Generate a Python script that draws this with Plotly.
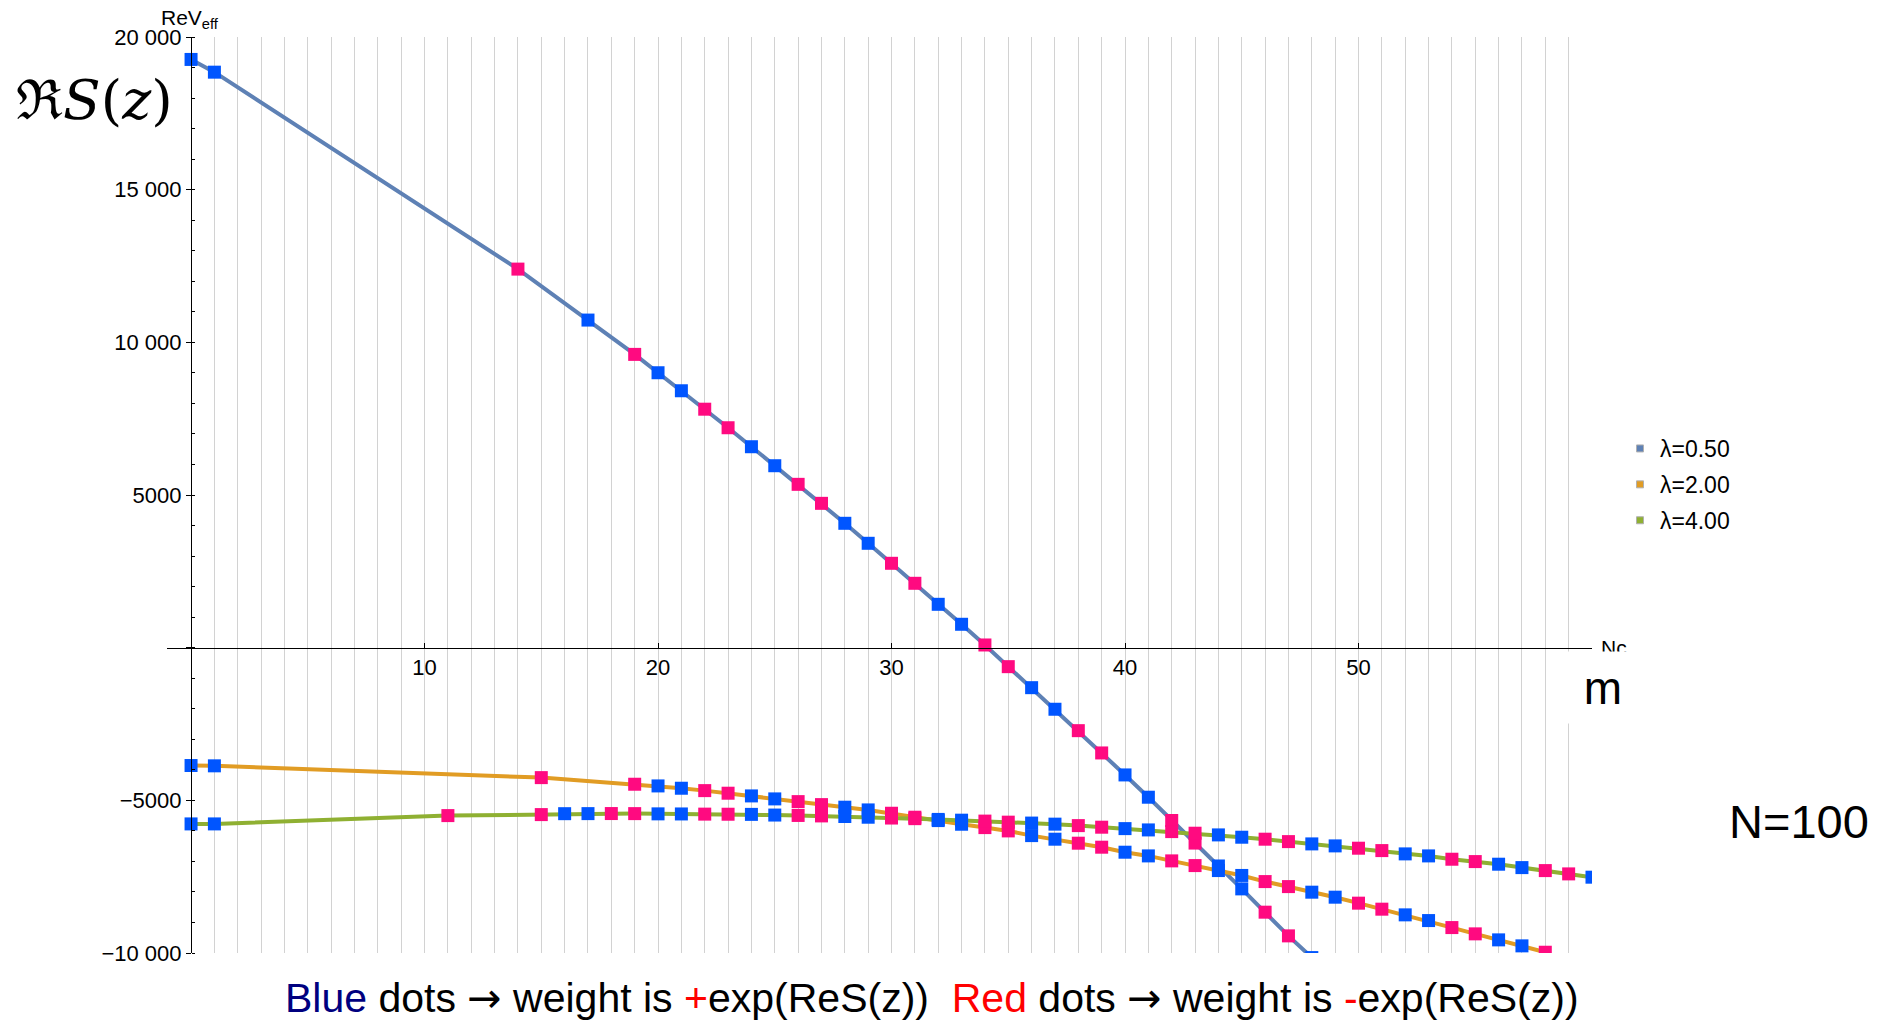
import plotly.graph_objects as go

# ---------------- data ----------------
m_l050 = [0, 1, 14, 17, 19, 20, 21, 22, 23, 24, 25, 26, 27, 28, 29, 30, 31, 32, 33,
          34, 35, 36, 37, 38, 39, 40, 41, 42, 43, 44, 45, 46, 47, 48]
res_l050 = [19265, 18848, 12398, 10729, 9605, 9004, 8414, 7810, 7203, 6581, 5959, 5349,
            4727, 4073, 3418, 2763, 2108, 1420, 766, 88, -622, -1310, -2017, -2718,
            -3448, -4168, -4898, -5660, -6400, -7150, -7900, -8663, -9439, -10150]

m_l200 = [0, 1, 15, 19, 20, 21, 22, 23, 24, 25, 26, 27, 28, 29, 30, 31, 32, 33, 34, 35,
          36, 37, 38, 39, 40, 41, 42, 43, 44, 45, 46, 47, 48, 49, 50, 51, 52, 53, 54,
          55, 56, 57, 58]
res_l200 = [-3860, -3870, -4256, -4473, -4528, -4604, -4682, -4767, -4855, -4953, -5042,
            -5140, -5225, -5314, -5423, -5553, -5663, -5783, -5893, -6001, -6155, -6273,
            -6404, -6535, -6699, -6820, -6983, -7137, -7300, -7460, -7661, -7825, -8008,
            -8172, -8368, -8565, -8751, -8938, -9167, -9373, -9570, -9766, -9975]

m_l400 = [0, 1, 11, 15, 16, 17, 18, 19, 20, 21, 22, 23, 24, 25, 26, 27, 28, 29, 30, 31,
          32, 33, 34, 35, 36, 37, 38, 39, 40, 41, 42, 43, 44, 45, 46, 47, 48, 49, 50,
          51, 52, 53, 54, 55, 56, 57, 58, 59, 60]
res_l400 = [-5772, -5772, -5500, -5467, -5437, -5435, -5433, -5435, -5443, -5446, -5452,
            -5455, -5460, -5482, -5495, -5510, -5530, -5553, -5580, -5600, -5625, -5650,
            -5680, -5715, -5745, -5780, -5828, -5880, -5926, -5969, -6024, -6077, -6132,
            -6208, -6273, -6352, -6427, -6492, -6568, -6646, -6754, -6820, -6929, -7006,
            -7092, -7203, -7301, -7409, -7517]

# sign of the weight for m = 0..60  (+ : blue dot, - : red dot)
weight_sign = "++--++--++--++--++--++--++--++--++--++--++--++--++--++--++--+"

series_names = ["λ=0.50", "λ=2.00", "λ=4.00"]
series_m = [m_l050, m_l200, m_l400]
series_val = [res_l050, res_l200, res_l400]
line_colors = ["#5e81b5", "#e19c24", "#8fb032"]
dot_colors = {"+": "#0055ff", "-": "#ff0a80"}

x_range = [-1.03, 60]
y_range = [-10000, 20000]

# ---------------- figure ----------------
W, H = 1892, 1026
ML, MR, MT, MB = 167, 300, 37, 73
PW, PH = W - ML - MR, H - MT - MB


def px(xp):
    return (xp - ML) / PW


def py(yp):
    return (H - MB - yp) / PH


fig = go.Figure()

for name, ms, vals, col in zip(series_names, series_m, series_val, line_colors):
    fig.add_trace(go.Scatter(x=ms, y=vals, mode="lines", line=dict(color=col, width=4),
                             showlegend=False, hoverinfo="skip"))

for name, ms, vals in zip(series_names, series_m, series_val):
    fig.add_trace(go.Scatter(
        x=ms, y=vals, mode="markers", showlegend=False,
        marker=dict(symbol="square", size=13,
                    color=[dot_colors[weight_sign[m]] for m in ms],
                    line=dict(width=0)),
        name=name))

for gi, (name, col) in enumerate(zip(series_names, line_colors)):
    fig.add_trace(go.Scatter(
        x=[None], y=[None], mode="markers", name=name, legendgroup="g%d" % gi,
        marker=dict(symbol="square", size=7, color=col,
                    line=dict(color="#b0b0b0", width=1))))

x_axis_pos = (0 - y_range[0]) / (y_range[1] - y_range[0])
y_axis_pos = (0 - x_range[0]) / (x_range[1] - x_range[0])

grid_col = "#d2d2d2"
tick_font = dict(family="Liberation Sans, Arial, sans-serif", size=22, color="black")

fig.update_layout(
    width=W, height=H,
    margin=dict(l=ML, r=MR, t=MT, b=MB, pad=0),
    paper_bgcolor="white", plot_bgcolor="white",
    separators=". ",
    font=dict(family="Liberation Sans, Arial, sans-serif", color="black"),
    xaxis=dict(
        range=x_range, anchor="free", position=x_axis_pos,
        showline=True, linecolor="black", linewidth=1.2,
        tickmode="linear", tick0=0, dtick=10,
        ticks="inside", ticklen=5, tickcolor="black", tickwidth=1,
        labelalias={"0": "", "60": ""}, tickfont=tick_font,
        showgrid=True, gridcolor=grid_col, gridwidth=1.4,
        minor=dict(dtick=1, showgrid=True, gridcolor=grid_col, gridwidth=1.4, ticks=""),
        zeroline=False,
    ),
    xaxis2=dict(
        range=x_range, overlaying="x", anchor="free", position=x_axis_pos,
        tickmode="linear", tick0=0, dtick=2, ticks="inside", ticklen=3,
        tickcolor="black", showticklabels=False, showgrid=False, showline=False,
        zeroline=False,
    ),
    yaxis=dict(
        range=y_range, anchor="free", position=y_axis_pos,
        showline=True, linecolor="black", linewidth=1.2,
        tickmode="linear", tick0=0, dtick=5000,
        ticks="outside", ticklen=5, tickcolor="black",
        exponentformat="none", labelalias={"0": ""}, tickfont=tick_font,
        showgrid=False, zeroline=False,
        minor=dict(dtick=1000, ticks="inside", ticklen=3, tickcolor="black"),
    ),
    legend=dict(
        x=px(1620), y=py(427), xanchor="left", yanchor="top",
        font=dict(size=23, family="Liberation Sans, Arial, sans-serif"),
        bgcolor="rgba(0,0,0,0)", tracegroupgap=3, itemsizing="trace",
    ),
)

arrow = "<span style='font-family:DejaVu Sans'>→</span>"
annotations = [
    dict(text="ReV<sub>eff</sub>", x=px(190), y=py(19), xref="paper", yref="paper",
         xanchor="center", yanchor="middle", showarrow=False,
         font=dict(size=21)),
    dict(text="ℜ<i>S</i>(<i>z</i>)", x=px(94), y=py(100), xref="paper", yref="paper",
         xanchor="center", yanchor="middle", showarrow=False,
         font=dict(size=55, family="DejaVu Serif, serif")),
    dict(text="N=100", x=px(1799), y=py(821), xref="paper", yref="paper",
         xanchor="center", yanchor="middle", showarrow=False,
         font=dict(size=47)),
    dict(text="Nc", x=px(1599), y=py(648), xref="paper", yref="paper",
         xanchor="left", yanchor="middle", showarrow=False,
         font=dict(size=21)),
    dict(text="m", x=px(1603), y=py(687), xref="paper", yref="paper",
         xanchor="center", yanchor="middle", showarrow=False,
         width=70, height=71, bgcolor="white", borderpad=0,
         font=dict(size=46)),
    dict(text=("<span style='color:#00007f'>Blue</span> dots " + arrow + " weight is "
               "<span style='color:#ff0000'>+</span>exp(ReS(z))  "
               "<span style='color:#ff0000'>Red</span> dots " + arrow + " weight is "
               "<span style='color:#ff0000'>-</span>exp(ReS(z))"),
         x=px(932), y=py(998), xref="paper", yref="paper",
         xanchor="center", yanchor="middle", showarrow=False,
         font=dict(size=41)),
]
fig.update_layout(annotations=annotations)

fig.write_html("out.html")
